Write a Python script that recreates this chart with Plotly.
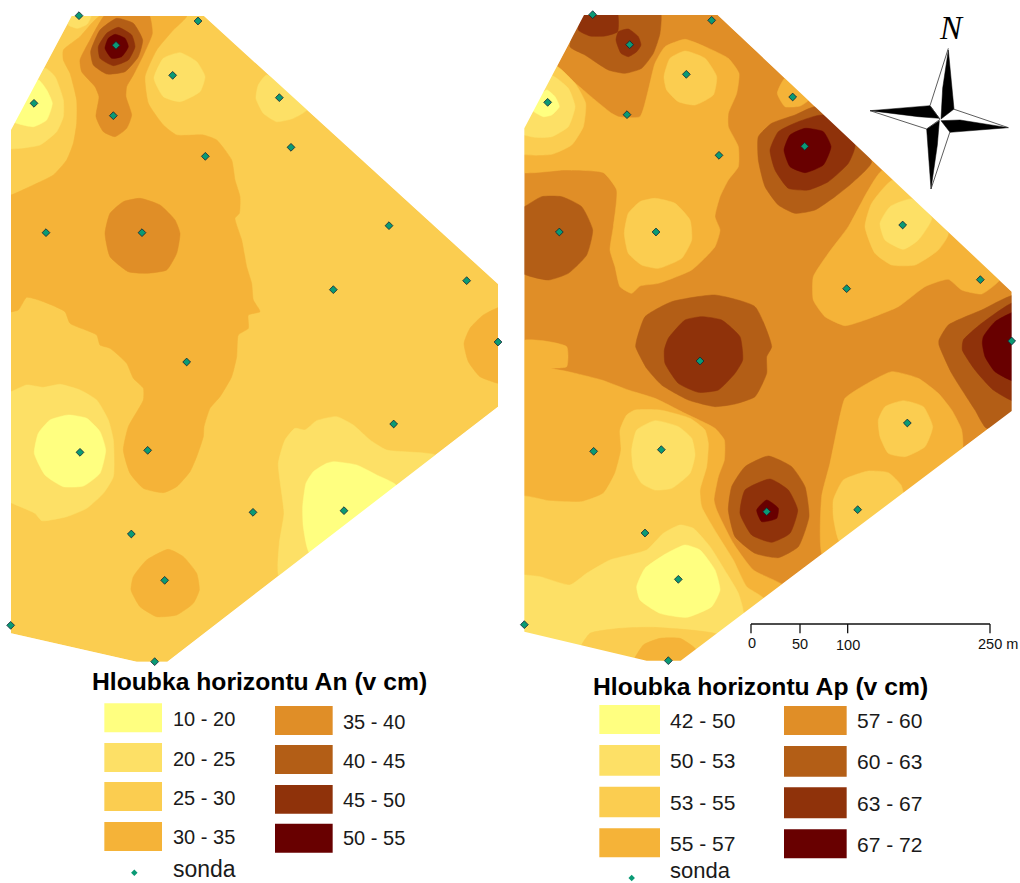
import plotly.graph_objects as go

# Coordinates below at a 3x scale (full image = 3060 x 2649).
COL_1 = "#FFFF80"
COL_2 = "#FDE066"
COL_3 = "#FBCD50"
COL_4 = "#F5B338"
COL_5 = "#E08E27"
COL_6 = "#B35E16"
COL_7 = "#8F320A"
COL_8 = "#680000"
PROBE = "#0A9A75"

RIGHT_DX = 1545

# ---------- field outlines
L_OUTLINE = [(33,390),(215,48),(612,48),(1494,852),(1494,1220),(502,1985),(410,1985),(33,1900)]
R_OUTLINE = [(28,385),(207,45),(608,45),(1490,875),(1490,1233),(497,1982),(395,1982),(28,1895)]

# ---------- left map, horizon An
L_4A = [(300,48),(560,48),(520,90),(470,150),(435,230),(445,310),(490,375),(530,405),(610,405),(650,420),(695,480),(705,540),(720,590),(718,640),(705,655),(725,720),(740,800),(755,850),(760,900),(780,935),(745,945),(745,985),(715,1005),(710,1070),(695,1130),(660,1190),(630,1225),(612,1280),(610,1310),(590,1370),(570,1415),(530,1460),(490,1478),(430,1465),(390,1420),(370,1350),(385,1280),(430,1200),(430,1165),(400,1135),(380,1090),(330,1045),(300,1035),(290,1005),(210,970),(195,935),(130,905),(80,892),(55,930),(20,935),(20,585),(33,585),(100,555),(160,525),(200,480),(220,430),(230,370),(230,300),(210,220),(190,180),(190,150),(240,110)]
L_4B = [(505,1648),(550,1670),(590,1720),(598,1770),(580,1810),(530,1845),(470,1850),(420,1820),(393,1770),(400,1730),(440,1680)]
L_4C = [(1510,920),(1450,945),(1410,985),(1392,1030),(1405,1085),(1440,1130),(1494,1150),(1510,1150)]
L_2A = [(205,60),(215,40),(275,40),(262,72),(232,85),(205,75)]
L_2B = [(135,205),(165,230),(190,300),(190,350),(170,395),(120,435),(60,445),(20,445),(20,390)]
L_2C = [(540,158),(590,185),(615,230),(600,275),(540,305),(490,290),(462,235),(490,175)]
L_2D = [(800,225),(925,325),(880,355),(830,365),(790,340),(768,295),(775,255)]
L_2E = [(20,1175),(33,1175),(80,1155),(130,1162),(180,1153),(240,1170),(290,1200),(325,1260),(340,1320),(340,1430),(310,1480),(260,1525),(200,1550),(125,1562),(105,1540),(33,1508),(20,1500)]
L_2F = [(885,1285),(915,1290),(950,1262),(1010,1250),(1060,1275),(1110,1320),(1160,1350),(1310,1368),(838,1730),(838,1630),(852,1540),(835,1390),(855,1320)]
L_1A = [(115,240),(140,270),(157,310),(140,360),(100,380),(40,365),(40,340)]
L_1B = [(205,1245),(260,1255),(300,1295),(317,1350),(300,1420),(250,1458),(190,1460),(135,1425),(103,1360),(115,1300),(150,1260)]
L_1C = [(1000,1385),(1070,1395),(1130,1425),(1190,1458),(930,1660),(910,1580),(908,1520),(918,1450),(940,1415),(980,1390)]
L_5A = [(320,40),(445,40),(457,100),(430,165),(400,225),(380,260),(378,290),(395,345),(380,385),(345,410),(310,395),(288,350),(297,290),(285,260),(245,215),(240,180),(270,120)]
L_5B = [(420,595),(480,615),(525,660),(540,700),(530,760),(500,810),(440,820),(385,815),(330,770),(315,700),(330,640),(370,605)]
L_6 = [(350,55),(400,70),(428,120),(415,170),(375,215),(320,222),(280,195),(272,155),(300,90)]
L_7 = [(355,82),(395,105),(405,140),(385,180),(340,197),(300,175),(295,140),(320,100)]
L_8 = [(345,103),(375,115),(385,140),(365,170),(335,175),(315,145),(325,115)]

L_PROBES_X = [237,594,348,518,102,838,340,873,616,138,426,1167,1400,1000,1494,560,1181,240,443,1032,759,394,494,32,464]
L_PROBES_Y = [47,63,136,226,310,293,347,442,469,698,698,677,842,869,1026,1086,1272,1357,1351,1532,1537,1602,1741,1876,1985]

# ---------- right map, horizon Ap (x measured from RIGHT_DX)
R_4A = [(130,205),(170,240),(240,300),(290,340),(310,350),(375,350),(400,270),(420,190),(450,140),(510,118),(570,140),(640,175),(672,220),(665,280),(640,340),(640,380),(670,440),(670,500),(640,540),(615,590),(600,650),(615,690),(600,740),(530,810),(430,850),(375,858),(350,880),(315,860),(300,800),(285,750),(295,680),(305,570),(265,518),(150,510),(15,515),(15,385)]
R_4B = [(15,1025),(155,1040),(155,1100),(108,1105),(160,1115),(260,1140),(340,1170),(420,1195),(510,1240),(600,1285),(628,1320),(628,1380),(610,1430),(597,1500),(605,1530),(655,1630),(715,1710),(815,1765),(497,2000),(15,2000)]
R_4C = [(810,235),(880,300),(855,318),(810,320),(787,280)]
R_4D = [(1105,510),(1060,570),(1000,680),(940,760),(895,830),(895,900),(930,950),(990,977),(1050,960),(1150,920),(1230,860),(1300,838),(1340,870),(1400,882),(1445,850),(1460,830)]
R_4E = [(990,1195),(1040,1160),(1130,1115),(1210,1135),(1270,1180),(1310,1230),(1340,1290),(1340,1365),(925,1670),(920,1490),(945,1390),(970,1270)]
R_4F = [(350,2000),(385,1935),(435,1915),(495,1915),(540,1945),(560,2000)]
R_3A = [(110,190),(180,250),(212,310),(205,380),(170,435),(110,463),(15,460),(15,385)]
R_3B = [(510,153),(570,175),(605,230),(595,285),(540,315),(490,305),(455,270),(447,230),(465,175)]
R_3C = [(420,595),(480,610),(525,660),(530,720),(500,775),(430,805),(380,795),(340,760),(328,700),(340,640),(375,605)]
R_3D = [(1135,540),(1300,700),(1270,750),(1200,795),(1130,795),(1080,760),(1050,680),(1070,610)]
R_3E = [(1165,1202),(1225,1220),(1253,1280),(1230,1340),(1170,1370),(1120,1360),(1095,1310),(1090,1260),(1110,1220)]
R_3F = [(1060,1413),(1120,1418),(1158,1455),(1165,1490),(975,1625),(955,1550),(955,1500),(985,1440)]
R_3G = [(15,1490),(100,1502),(200,1505),(265,1480),(300,1420),(318,1350),(315,1290),(335,1245),(360,1230),(435,1230),(525,1255),(570,1290),(580,1330),(575,1400),(555,1470),(560,1520),(605,1600),(655,1680),(695,1760),(750,1800),(497,2000),(15,2000)]
R_2A = [(105,225),(160,265),(180,320),(160,380),(110,410),(60,412),(15,400),(15,385)]
R_2B = [(1190,597),(1250,655),(1210,720),(1165,748),(1110,720),(1095,670),(1125,620)]
R_2C = [(420,1262),(490,1280),(530,1315),(540,1365),(525,1420),(470,1465),(420,1470),(380,1450),(355,1405),(350,1350),(365,1290)]
R_2D = [(15,1725),(29,1725),(75,1730),(165,1755),(215,1720),(285,1680),(395,1650),(445,1600),(495,1575),(535,1585),(585,1640),(635,1720),(670,1780),(685,1850),(497,2000),(15,2000)]
R_3H = [(195,1950),(225,1900),(315,1885),(415,1882),(610,1905),(497,2000),(395,2000)]
R_1A = [(95,270),(120,290),(133,320),(110,345),(85,350),(45,325)]
R_1B = [(510,1635),(555,1650),(600,1710),(615,1770),(590,1820),(515,1852),(435,1840),(375,1800),(365,1760),(390,1705),(455,1660)]
R_6A = [(165,140),(210,165),(280,210),(330,220),(380,205),(415,160),(435,100),(435,30),(210,30)]
R_6B = [(28,620),(80,590),(140,590),(200,620),(233,690),(215,765),(160,820),(100,840),(15,815),(15,625)]
R_6C = [(905,320),(1070,485),(1010,550),(960,590),(900,630),(840,640),(790,615),(750,560),(730,480),(730,410),(770,370),(840,345)]
R_6D = [(365,1020),(390,950),(470,905),(600,885),(720,920),(770,1040),(755,1070),(755,1120),(720,1190),(660,1212),(600,1220),(520,1200),(440,1155),(395,1105),(362,1040)]
R_6E = [(1272,1020),(1300,975),(1400,930),(1505,885),(1505,1240),(1415,1285),(1380,1230),(1310,1120),(1272,1035)]
R_6F = [(760,1368),(830,1400),(870,1460),(882,1550),(850,1640),(790,1673),(720,1660),(660,1610),(640,1530),(650,1460),(690,1400)]
R_7A = [(207,30),(305,30),(308,95),(270,108),(225,108),(190,90)]
R_7B = [(340,87),(370,110),(378,135),(365,155),(340,170),(318,160),(303,120),(310,95)]
R_7C = [(925,345),(1020,435),(1000,490),(940,545),(880,570),(820,565),(780,510),(765,450),(790,395),(850,365)]
R_7D = [(460,1015),(510,960),(560,950),(620,960),(675,1010),(683,1080),(660,1120),(610,1170),(550,1177),(490,1150),(450,1090),(448,1050)]
R_7E = [(1345,1020),(1400,970),(1505,905),(1505,1205),(1435,1170),(1380,1110),(1342,1050)]
R_7F = [(765,1437),(820,1470),(848,1530),(825,1600),(770,1627),(710,1605),(675,1540),(690,1470)]
R_8A = [(870,385),(925,395),(948,440),(925,495),(870,518),(825,500),(807,450),(825,405)]
R_8B = [(1405,1010),(1440,965),(1505,935),(1505,1145),(1440,1115),(1410,1070),(1402,1030)]
R_8C = [(755,1500),(790,1525),(785,1555),(740,1565),(725,1530)]

R_PROBES_X = [233,590,344,514,98,833,336,869,612,133,423,1163,1396,995,1490,555,1177,236,439,1028,755,390,490,28,460]
R_PROBES_Y = [44,61,134,223,307,291,344,439,466,696,696,675,839,866,1023,1083,1269,1354,1349,1529,1535,1599,1738,1874,1982]

# ---------- legends
L_TITLE = "Hloubka horizontu An (v cm)"
R_TITLE = "Hloubka horizontu Ap (v cm)"
L_LABELS_1 = ["10 - 20", "20 - 25", "25 - 30", "30 - 35"]
L_LABELS_2 = ["35 - 40", "40 - 45", "45 - 50", "50 - 55"]
R_LABELS_1 = ["42 - 50", "50 - 53", "53 - 55", "55 - 57"]
R_LABELS_2 = ["57 - 60", "60 - 63", "63 - 67", "67 - 72"]
PROBE_LABEL = "sonda"
COLS_1 = [COL_1, COL_2, COL_3, COL_4]
COLS_2 = [COL_5, COL_6, COL_7, COL_8]

L_SW1_X = (313, 486)
L_SW1_Y = [(2110,2197),(2229,2316),(2346,2433),(2466,2553)]
L_SW2_X = (825, 998)
L_SW2_Y = [(2118,2205),(2235,2322),(2355,2441),(2471,2558)]
R_SW1_X = (1798, 1980)
R_SW1_Y = [(2115,2202),(2235,2327),(2360,2452),(2485,2572)]
R_SW2_X = (2352, 2540)
R_SW2_Y = [(2118,2205),(2238,2330),(2362,2455),(2488,2575)]

# ---------- scale bar
SCALE_X = [2253, 2400, 2543, 2970]
SCALE_LABELS = ["0", "50", "100", "250 m"]
SCALE_LABEL_X = [2256, 2400, 2543, 2993]
SCALE_LABEL_Y = [1930, 1932, 1936, 1932]

# ---------- north arrow (x from 2580, y from 15)
N_BLACK = [(265,135),(282,312),(243,342),(248,250)]
E_BLACK = [(445,368),(270,382),(243,347),(300,345)]
S_BLACK = [(213,552),(200,372),(238,347),(232,420)]
W_BLACK = [(30,317),(210,302),(238,340),(175,335)]
N_WHITE_EDGE = [(265,130),(210,302),(240,343)]
E_WHITE_EDGE = [(280,312),(445,368)]
S_WHITE_EDGE = [(270,380),(213,552)]
W_WHITE_EDGE = [(30,317),(200,372),(240,343)]

fig = go.Figure()


def area(points, color, dx=0, dy=0, spline=True, line_color=None):
    fig.add_trace(go.Scatter(
        x=[p[0] + dx for p in points] + [points[0][0] + dx],
        y=[p[1] + dy for p in points] + [points[0][1] + dy],
        mode="lines", fill="toself", fillcolor=color,
        line=dict(color=line_color or color, width=0.5,
                  shape="spline" if spline else "linear", smoothing=0.5),
        hoverinfo="skip", showlegend=False))


def mask(outline, x0, x1, y0, y1, dx=0):
    pts = [(x0, y0), (x0, y1), (x1, y1), (x1, y0), (x0, y0)]
    pts += [(p[0] + dx, p[1]) for p in outline]
    pts += [(outline[0][0] + dx, outline[0][1]), (x0, y0)]
    fig.add_trace(go.Scatter(
        x=[p[0] for p in pts], y=[p[1] for p in pts],
        mode="lines", fill="toself", fillcolor="white",
        line=dict(color="white", width=0),
        hoverinfo="skip", showlegend=False))


# left map
area(L_OUTLINE, COL_3, spline=False)
for pts, col in [(L_4A, COL_4), (L_4B, COL_4), (L_4C, COL_4),
                 (L_2A, COL_2), (L_2B, COL_2), (L_2C, COL_2), (L_2D, COL_2), (L_2E, COL_2), (L_2F, COL_2),
                 (L_1A, COL_1), (L_1B, COL_1), (L_1C, COL_1),
                 (L_5A, COL_5), (L_5B, COL_5), (L_6, COL_6), (L_7, COL_7), (L_8, COL_8)]:
    area(pts, col)
mask(L_OUTLINE, -5, 1497, -5, 2090)

# right map
area(R_OUTLINE, COL_5, dx=RIGHT_DX, spline=False)
for pts, col in [(R_4A, COL_4), (R_4B, COL_4), (R_4C, COL_4), (R_4D, COL_4), (R_4E, COL_4),
                 (R_3A, COL_3), (R_3B, COL_3), (R_3C, COL_3), (R_3D, COL_3), (R_3E, COL_3), (R_3F, COL_3), (R_3G, COL_3),
                 (R_2A, COL_2), (R_2B, COL_2), (R_2C, COL_2), (R_2D, COL_2),
                 (R_3H, COL_3), (R_4F, COL_4),
                 (R_1A, COL_1), (R_1B, COL_1),
                 (R_6A, COL_6), (R_6B, COL_6), (R_6C, COL_6), (R_6D, COL_6), (R_6E, COL_6), (R_6F, COL_6),
                 (R_7A, COL_7), (R_7B, COL_7), (R_7C, COL_7), (R_7D, COL_7), (R_7E, COL_7), (R_7F, COL_7),
                 (R_8A, COL_8), (R_8B, COL_8), (R_8C, COL_8)]:
    area(pts, col, dx=RIGHT_DX)
mask(R_OUTLINE, 1497, 3065, -5, 2090, dx=RIGHT_DX)

# probes
marker = dict(symbol="diamond", size=6, color=PROBE, line=dict(color="#123", width=0.8))
fig.add_trace(go.Scatter(x=L_PROBES_X, y=L_PROBES_Y, mode="markers", marker=marker,
                         hoverinfo="skip", showlegend=False, cliponaxis=False))
fig.add_trace(go.Scatter(x=[v + RIGHT_DX for v in R_PROBES_X], y=R_PROBES_Y, mode="markers", marker=marker,
                         hoverinfo="skip", showlegend=False, cliponaxis=False))
fig.add_trace(go.Scatter(x=[403, 1895], y=[2618, 2634], mode="markers",
                         marker=dict(symbol="diamond", size=5, color=PROBE),
                         hoverinfo="skip", showlegend=False))

# legend swatches
shapes = []
for xr, yrs, cols in [(L_SW1_X, L_SW1_Y, COLS_1), (L_SW2_X, L_SW2_Y, COLS_2),
                      (R_SW1_X, R_SW1_Y, COLS_1), (R_SW2_X, R_SW2_Y, COLS_2)]:
    for yr, c in zip(yrs, cols):
        shapes.append(dict(type="rect", xref="x", yref="y", x0=xr[0], x1=xr[1], y0=yr[0], y1=yr[1],
                           fillcolor=c, line=dict(width=0), layer="below"))

annotations = []


def label(x, y, text, size, color="#1a1a1a", family="Liberation Sans", xanchor="left", bold=False, italic=False):
    if bold:
        text = "<b>" + text + "</b>"
    if italic:
        text = "<i>" + text + "</i>"
    annotations.append(dict(x=x, y=y, xref="x", yref="y", text=text, showarrow=False,
                            xanchor=xanchor, yanchor="middle",
                            font=dict(family=family, size=size, color=color)))


label(777, 2045, L_TITLE, 24.7, xanchor="center", color="#000", bold=True)
label(2281, 2058, R_TITLE, 24.7, xanchor="center", color="#000", bold=True)
for text, y in zip(L_LABELS_1, [2158, 2276, 2394, 2510]):
    label(514, y, text, 20)
for text, y in zip(L_LABELS_2, [2165, 2282, 2400, 2515]):
    label(1024, y, text, 20)
for text, y in zip(R_LABELS_1, [2160, 2282, 2408, 2530]):
    label(2004, y, text, 21)
for text, y in zip(R_LABELS_2, [2162, 2285, 2410, 2533]):
    label(2566, y, text, 21)
label(514, 2606, PROBE_LABEL, 23)
label(2004, 2610, PROBE_LABEL, 22)

# scale bar
fig.add_trace(go.Scatter(x=[SCALE_X[0], SCALE_X[-1]], y=[1872, 1872], mode="lines",
                         line=dict(color="#111", width=1.3), hoverinfo="skip", showlegend=False))
for v in SCALE_X:
    fig.add_trace(go.Scatter(x=[v, v], y=[1872, 1900], mode="lines",
                             line=dict(color="#111", width=1.3), hoverinfo="skip", showlegend=False))
for x, y, t in zip(SCALE_LABEL_X, SCALE_LABEL_Y, SCALE_LABELS):
    label(x, y, t, 14.5, xanchor="center", color="#111")

# north arrow
for pts in [N_BLACK, E_BLACK, S_BLACK, W_BLACK]:
    area(pts, "#000", dx=2580, dy=15, spline=False)
for pts in [N_WHITE_EDGE, E_WHITE_EDGE, S_WHITE_EDGE, W_WHITE_EDGE]:
    fig.add_trace(go.Scatter(x=[p[0] + 2580 for p in pts], y=[p[1] + 15 for p in pts], mode="lines",
                             line=dict(color="#333", width=0.8), hoverinfo="skip", showlegend=False))
label(2855, 83, "N", 33, family="Liberation Serif", xanchor="center", color="#000", italic=True)

fig.update_layout(
    width=1020, height=883, autosize=False,
    margin=dict(l=0, r=0, t=0, b=0),
    paper_bgcolor="white", plot_bgcolor="white",
    showlegend=False,
    shapes=shapes, annotations=annotations,
    xaxis=dict(range=[0, 3060], visible=False, fixedrange=True),
    yaxis=dict(range=[2649, 0], visible=False, fixedrange=True),
)
fig.write_html("out.html", config={"displayModeBar": False},
               post_script="document.body.style.margin='0';document.body.style.overflow='hidden';")
